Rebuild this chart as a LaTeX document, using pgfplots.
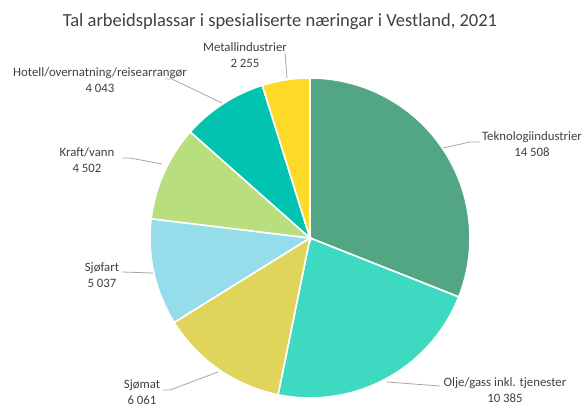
\documentclass[border=0pt]{standalone}
\usepackage{pgfplots}
\usepackage{pgfplotstable}
\pgfplotsset{compat=1.18}
\usepackage{fontspec}
\setmainfont{Carlito}

\definecolor{cA}{HTML}{52A684}
\definecolor{cB}{HTML}{3DD9C1}
\definecolor{cC}{HTML}{E0D55A}
\definecolor{cD}{HTML}{96DDEB}
\definecolor{cE}{HTML}{B9DE7E}
\definecolor{cF}{HTML}{00C4B0}
\definecolor{cG}{HTML}{FDD928}
\definecolor{txtgray}{HTML}{404040}
\definecolor{leadgray}{HTML}{A6A6A6}

% slices clockwise from 12 o'clock
\pgfplotstableread{
value col
14508 cA
10385 cB
6061  cC
5037  cD
4502  cE
4043  cF
2255  cG
}\piedata

\begin{document}
\begin{tikzpicture}
\def\total{0}
\pgfplotsforeachungrouped \i in {0,...,6}{%
  \pgfplotstablegetelem{\i}{value}\of\piedata
  \pgfmathsetmacro\total{\total+\pgfplotsretval/1000}%
}
\begin{axis}[
    width=585bp, height=408bp, scale only axis,
    xmin=0, xmax=585, ymin=0, ymax=408,
    hide axis, clip=false]

    \def\cum{0}
    \pgfplotsforeachungrouped \i in {0,...,6}{%
      \pgfplotstablegetelem{\i}{value}\of\piedata
      \let\sliceval\pgfplotsretval
      \pgfplotstablegetelem{\i}{col}\of\piedata
      \let\slicecol\pgfplotsretval
      \pgfmathsetmacro\aA{90-360*(\cum/\total)}%
      \pgfmathsetmacro\cum{\cum+\sliceval/1000}%
      \pgfmathsetmacro\aB{90-360*(\cum/\total)}%
      \edef\temp{\noexpand\filldraw[fill=\slicecol, draw=white, line width=1.6pt]
        (axis cs:310,170) -- ++(\aA:160bp)
        arc[start angle=\aA, end angle=\aB, radius=160bp] -- cycle;}%
      \temp
    }

    \node[text=txtgray, font=\fontsize{18.5bp}{22bp}\selectfont]
        at (axis cs:280,386) {Tal arbeidsplassar i spesialiserte næringar i Vestland, 2021};

    \tikzset{lab/.style={text=txtgray, align=center, inner sep=0pt,
        font=\fontsize{12.8bp}{16bp}\selectfont}}
    \tikzset{lead/.style={draw=leadgray, line width=0.8pt}}

    \node[lab] at (axis cs:532,263.5) {Teknologiindustrier\\14 508};
    \node[lab] at (axis cs:505,18) {Olje/gass inkl. tjenester\\10 385};
    \node[lab] at (axis cs:142,16) {Sjømat\\6 061};
    \node[lab] at (axis cs:102,132.5) {Sjøfart\\5 037};
    \node[lab] at (axis cs:87,247.5) {Kraft/vann\\4 502};
    \node[lab] at (axis cs:100,328) {Hotell/overnatning/reisearrangør\\4 043};
    \node[lab] at (axis cs:245,352.5) {Metallindustrier\\2 255};

    \draw[lead] (axis cs:443,260) -- (axis cs:470,266) -- (axis cs:480,266);
    \draw[lead] (axis cs:387,26) -- (axis cs:440,22);
    \draw[lead] (axis cs:163,18) -- (axis cs:170,18) -- (axis cs:218,36);
    \draw[lead] (axis cs:122,136) -- (axis cs:153,135);
    \draw[lead] (axis cs:122,250) -- (axis cs:130,250) -- (axis cs:162,244);
    \draw[lead] (axis cs:165,329) -- (axis cs:172,329) -- (axis cs:222,305);
    \draw[lead] (axis cs:285,355) -- (axis cs:287,330);
\end{axis}
\pgfresetboundingbox
\path (0,0) rectangle (585bp,408bp);
\end{tikzpicture}
\end{document}
